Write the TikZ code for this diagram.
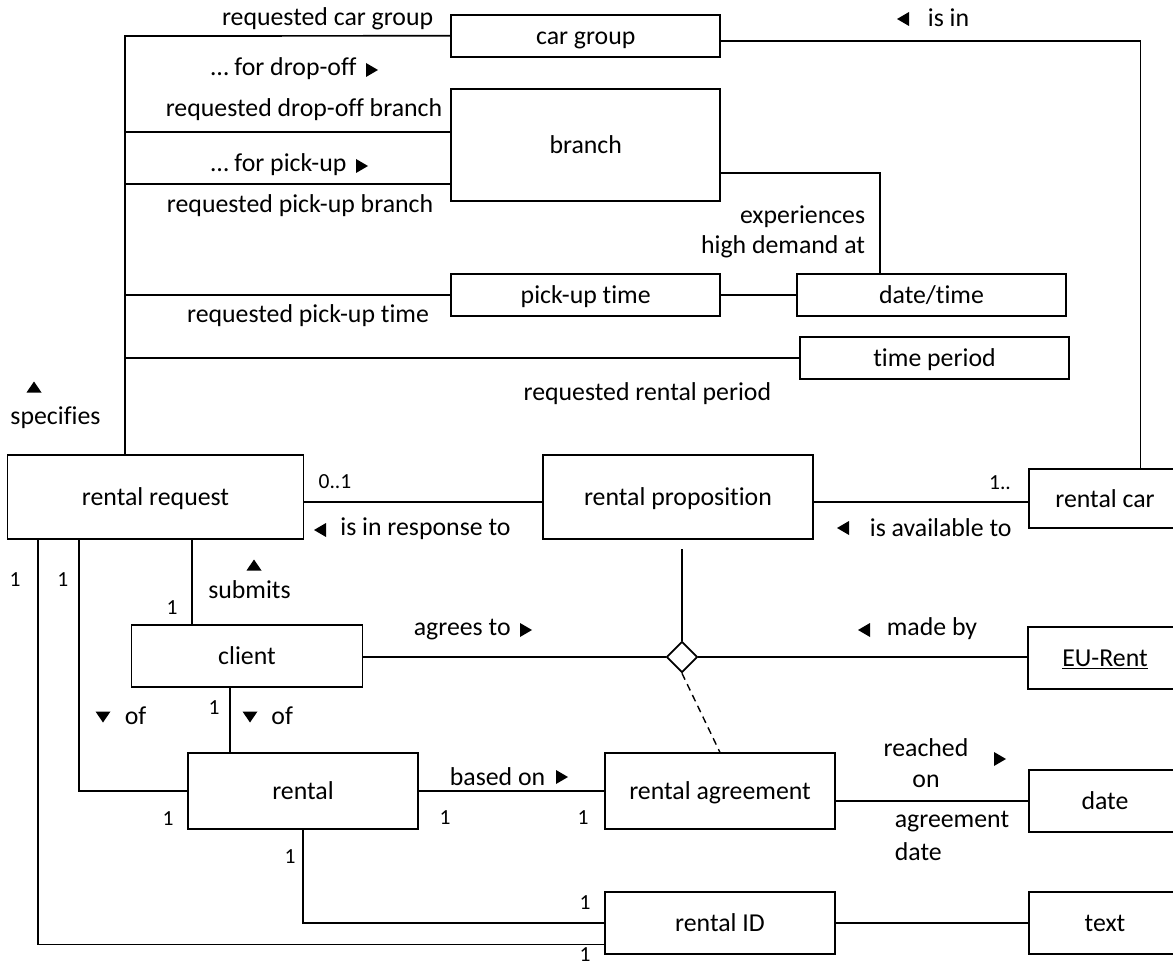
\documentclass[tikz,border=0pt]{standalone}
\usepackage{fontspec}
\setmainfont{Carlito}[Ligatures=CommonOff]
\usetikzlibrary{shapes.geometric}
\tikzset{
  trir/.pic={\fill (-6,-7) -- (6,0) -- (-6,7) -- cycle;},
  tril/.pic={\fill (6,-7) -- (-6,0) -- (6,7) -- cycle;},
  triu/.pic={\fill (-7.5,5.5) -- (0,-5.5) -- (7.5,5.5) -- cycle;},
  trid/.pic={\fill (-7.5,-5.5) -- (0,5.5) -- (7.5,-5.5) -- cycle;},
  ebox/.style={draw, inner sep=0pt, text height=17pt, text depth=0pt, font=\fontsize{25.8}{30}\selectfont},
  lab/.style={inner sep=0pt, text height=16pt, text depth=5pt, font=\fontsize{25.8}{30}\selectfont},
  mult/.style={inner sep=0pt, text height=13pt, text depth=0pt, font=\fontsize{21.5}{25}\selectfont},
  dconn/.style={draw, line width=1.4pt, dash pattern=on 7pt off 5pt}
}
\begin{document}
\begin{tikzpicture}[x=1pt,y=-1pt,line width=1.7pt]
\useasboundingbox (0,0) rectangle (1173,968);

% boxes
\node[ebox, minimum width=269pt, minimum height=42pt] (cg) at (585.7,35.8) {car group};
\node[ebox, minimum width=269pt, minimum height=112pt] (br) at (585.7,145) {branch};
\node[ebox, minimum width=269pt, minimum height=42pt] (pt) at (585.7,295) {pick-up time};
\node[ebox, minimum width=269pt, minimum height=42pt] (dt) at (931.5,295) {date/time};
\node[ebox, minimum width=269pt, minimum height=42pt] (tp) at (934.5,358) {time period};
\node[ebox, minimum width=296pt, minimum height=84pt] (rr) at (155.5,497) {rental request};
\node[ebox, minimum width=270pt, minimum height=84pt] (rp) at (678,497) {rental proposition};
\node[ebox, minimum width=152pt, minimum height=59pt] (rc) at (1105,498.5) {rental car};
\node[ebox, minimum width=231pt, minimum height=62pt] (cl) at (247,656) {client};
\node[ebox, minimum width=154pt, minimum height=62pt] (eu) at (1105,658) {\underline{EU-Rent}};
\node[ebox, minimum width=229.5pt, minimum height=76pt] (rn) at (303,791.3) {rental};
\node[ebox, minimum width=230pt, minimum height=76pt] (ra) at (720,791.3) {rental agreement};
\node[ebox, minimum width=152pt, minimum height=62pt] (dte) at (1105,801) {date};
\node[ebox, minimum width=230pt, minimum height=62pt] (rid) at (720,923) {rental ID};
\node[ebox, minimum width=152pt, minimum height=62pt] (tx) at (1105,923) {text};
\node[diamond, draw, fill=white, inner sep=0pt, minimum width=31pt, minimum height=31pt] (dm) at (682,657) {};

% helper coordinates
\coordinate (tTop) at (125,36);
\coordinate (dropY) at (0,132);
\coordinate (pickY) at (0,184);
\coordinate (cgR) at (1140.5,41);
\coordinate (bdt) at (880,173);
\coordinate (respY) at (0,502);
\coordinate (rpGap) at (0,549);
\coordinate (subX) at (191.7,0);
\coordinate (ofX) at (79,0);
\coordinate (outX) at (37.7,0);
\coordinate (botY) at (0,944.5);
\coordinate (clX) at (230,0);

% connectors
\draw (cg.west) -- (tTop) -- (tTop |- rr.north);
\draw (br.west |- dropY) -- (tTop |- dropY);
\draw (br.west |- pickY) -- (tTop |- pickY);
\draw (pt.west) -- (tTop |- pt.west);
\draw (tp.west) -- (tTop |- tp.west);
\draw (cg.east |- cgR) -- (cgR) -- (cgR |- rc.north);
\draw (br.east |- bdt) -- (bdt) -- (bdt |- dt.north);
\draw (pt.east) -- (dt.west);
\draw (rr.east |- respY) -- (rp.west |- respY);
\draw (rp.east |- respY) -- (rc.west |- respY);
\draw (dm.north) -- (dm.north |- rpGap);
\draw (cl.east |- dm.west) -- (dm.west);
\draw (dm.east) -- (eu.west |- dm.east);
\draw[dconn] (dm.south) -- (ra.north);
\draw (rr.south -| subX) -- (cl.north -| subX);
\draw (rr.south -| ofX) -- (ofX |- rn.west) -- (rn.west);
\draw (rr.south -| outX) -- (outX |- botY) -- (rid.west |- botY);
\draw (cl.south -| clX) -- (rn.north -| clX);
\draw (rn.east) -- (ra.west);
\draw (rn.south) -- (rn.south |- rid.west) -- (rid.west);
\draw (dte.west) -- (dte.west -| ra.east);
\draw (rid.east) -- (tx.west);

% labels
\node[lab, anchor=east] (l1) at (434,20) {requested car group};
\node[lab, anchor=west] (l2) at (210,70) {… for drop-off};
\pic at (372,70) {trir};
\node[lab, anchor=east] (l3) at (443,111) {requested drop-off branch};
\node[lab, anchor=west] (l4) at (210,166) {… for pick-up};
\pic at (362,166) {trir};
\node[lab, anchor=east] (l5) at (434,207) {requested pick-up branch};
\node[lab] (l6) at (308,317) {requested pick-up time};
\pic at (903,19) {tril};
\node[lab, anchor=west] (l7) at (927,21.5) {is in};
\node[lab, anchor=east] (l8) at (866,218) {experiences};
\node[lab, anchor=east] (l9) at (866,248) {high demand at};
\node[lab, anchor=east] (l10) at (772,395) {requested rental period};
\pic at (34,387) {triu};
\node[lab] (l11) at (55.5,419) {specifies};
\node[mult] (m1) at (335,482) {0..1};
\pic at (320,530) {tril};
\node[lab, anchor=west] (l12) at (339.5,530) {is in response to};
\node[mult] (m2) at (1000,483) {1..};
\pic at (843,528) {tril};
\node[lab, anchor=west] (l13) at (869,530.5) {is available to};
\pic at (254,565) {triu};
\node[lab] (l14) at (249.5,592.5) {submits};
\node[mult] (m3) at (172,608) {1};
\node[mult] (m4) at (15,580) {1};
\node[mult] (m5) at (62.7,580) {1};
\node[lab, anchor=west] (l15) at (413,630) {agrees to};
\pic at (526,630) {trir};
\pic at (864,630) {tril};
\node[lab, anchor=west] (l16) at (886,630) {made by};
\node[mult] (m6) at (214,708) {1};
\pic at (250,717) {trid};
\node[lab, anchor=west] (l17) at (270.6,718.5) {of};
\pic at (103,717) {trid};
\node[lab, anchor=west] (l18) at (124,718.5) {of};
\node[mult] (m7) at (168,819) {1};
\node[lab, anchor=west] (l19) at (449,779.5) {based on};
\pic at (562,777) {trir};
\node[mult] (m8) at (445,818) {1};
\node[mult] (m9) at (583,818) {1};
\node[lab] (l20) at (926,750.5) {reached};
\node[lab] (l21) at (926,781.5) {on};
\pic at (1000,759) {trir};
\node[lab, anchor=west] (l22) at (894,822) {agreement};
\node[lab, anchor=west] (l23) at (894,854.5) {date};
\node[mult] (m10) at (290,857) {1};
\node[mult] (m11) at (585,903) {1};
\node[mult] (m12) at (585,955) {1};
\end{tikzpicture}
\end{document}
